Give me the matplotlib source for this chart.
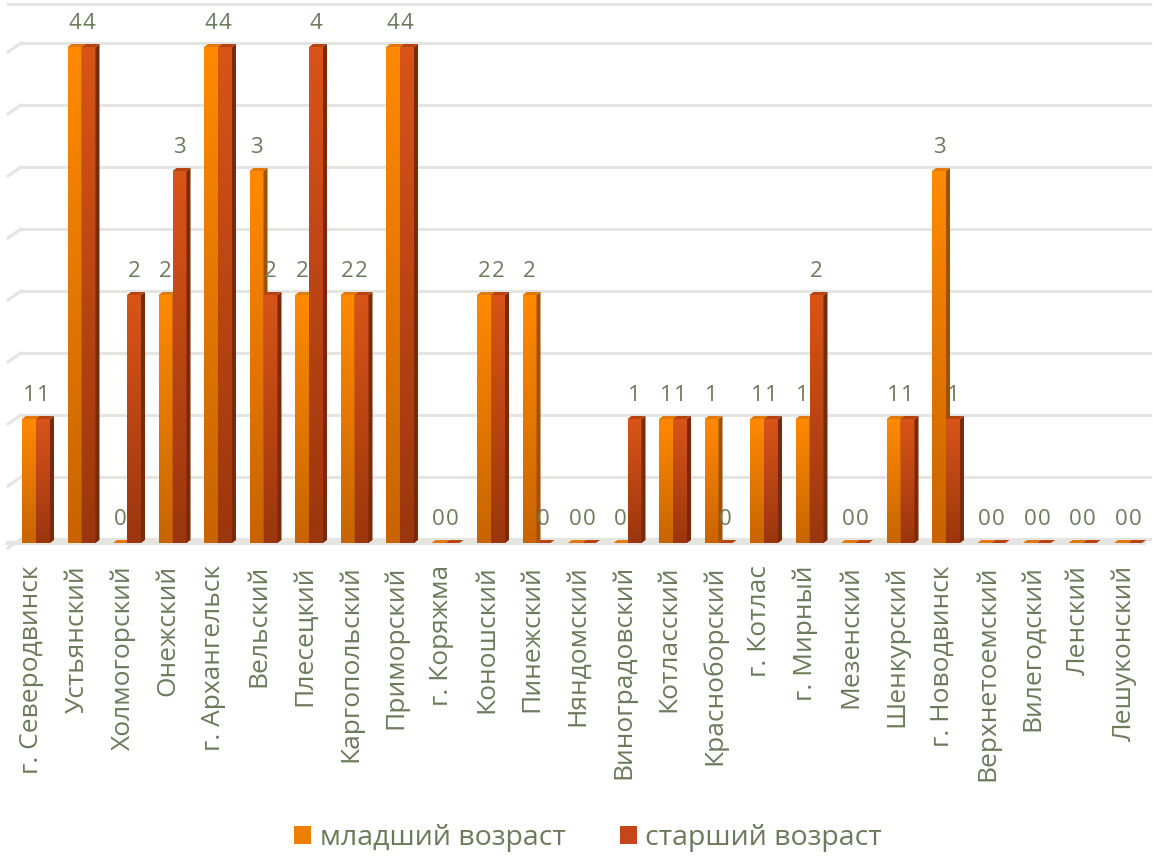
import numpy as np
import matplotlib
matplotlib.use("Agg")
import matplotlib.pyplot as plt
from matplotlib.colors import LinearSegmentedColormap
from matplotlib.patches import Polygon, Patch

plt.rcParams['font.family'] = ['Open Sans', 'DejaVu Sans']

categories = ["г. Северодвинск", "Устьянский", "Холмогорский", "Онежский", "г. Архангельск",
              "Вельский", "Плесецкий", "Каргопольский", "Приморский", "г. Коряжма",
              "Коношский", "Пинежский", "Няндомский", "Виноградовский", "Котласский",
              "Красноборский", "г. Котлас", "г. Мирный", "Мезенский", "Шенкурский",
              "г. Новодвинск", "Верхнетоемский", "Вилегодский", "Ленский", "Лешуконский"]
young = [1, 4, 0, 2, 4, 3, 2, 2, 4, 0, 2, 2, 0, 0, 1, 1, 1, 1, 0, 1, 3, 0, 0, 0, 0]
old   = [1, 4, 2, 3, 4, 2, 4, 2, 4, 0, 2, 0, 0, 1, 1, 0, 1, 2, 0, 1, 1, 0, 0, 0, 0]
series_names = ["младший возраст", "старший возраст"]

W, H = 1153, 857
fig = plt.figure(figsize=(W / 100, H / 100), dpi=100)

ax_l, ax_r, ax_t, ax_b = 8, 1150, 4, 543
ax = fig.add_axes([ax_l / W, 1 - ax_b / H, (ax_r - ax_l) / W, (ax_b - ax_t) / H])
step_px = 45.5
unit_px = 124.0
x0 = (ax_l - 36) / step_px
x1 = (ax_r - 36) / step_px
ylim_top = (ax_b - ax_t) / unit_px
ax.set_xlim(x0, x1)
ax.set_ylim(0, ylim_top)
ax.axis('off')

px_x = 1 / step_px
px_y = 1 / unit_px

grid_col = '#E4E4E0'
for v in np.arange(0, 4.01, 0.5):
    yv = v + 4 * px_y
    ax.plot([x0 + 13 * px_x, x1], [yv, yv], color=grid_col, lw=2.2, zorder=1, clip_on=False)
    ax.plot([x0, x0 + 13 * px_x], [yv - 9 * px_y, yv], color=grid_col, lw=2.2, zorder=1, clip_on=False)
ax.plot([x0, x1], [ylim_top, ylim_top], color=grid_col, lw=2.2, zorder=1, clip_on=False)
ax.plot([x0, x1 - 6 * px_x], [0, 0], color=grid_col, lw=3, zorder=1, clip_on=False)

bw = 14 * px_x
ddx = 4 * px_x
ddy = 3 * px_y

cm_front = [LinearSegmentedColormap.from_list('o', ['#C86400', '#FF8A00']),
            LinearSegmentedColormap.from_list('r', ['#9C360E', '#D85418'])]
side_cols = ['#A05000', '#7A2A08']
top_cols = ['#E07A10', '#B84312']
label_col = '#6B7A5B'
grad = np.linspace(0, 1, 64).reshape(-1, 1)

for s, vals in enumerate([young, old]):
    for i, v in enumerate(vals):
        left = i - bw + s * bw
        right = left + bw
        zo = 3 + s
        if v > 0:
            ax.imshow(grad, extent=[left, right, 0, v], origin='lower', aspect='auto',
                      cmap=cm_front[s], zorder=zo, interpolation='bilinear')
            side = Polygon([(right, 0), (right + ddx, ddy), (right + ddx, v + ddy), (right, v)],
                           closed=True, facecolor=side_cols[s], edgecolor='none', zorder=zo)
            ax.add_patch(side)
        top = Polygon([(left, v), (left + ddx, v + ddy), (right + ddx, v + ddy), (right, v)],
                      closed=True, facecolor=top_cols[s], edgecolor='none', zorder=zo + 0.5)
        ax.add_patch(top)
        ax.annotate(str(v), xy=((left + right) / 2, v), xytext=(0, 17), textcoords='offset points',
                    ha='center', va='center', fontsize=16, color=label_col, zorder=10,
                    annotation_clip=False)

ax.set_xlim(x0, x1)
ax.set_ylim(0, ylim_top)

for i, c in enumerate(categories):
    ax.annotate(c, xy=(i, 0), xytext=(-3, -16), textcoords='offset points', rotation=90,
                ha='center', va='top', fontsize=19, color=label_col, annotation_clip=False)

handles = [Patch(facecolor='#F07E00', edgecolor='none'), Patch(facecolor='#C4461A', edgecolor='none')]
fig.legend(handles, series_names, loc='center', bbox_to_anchor=(0.51, 1 - 838 / H), ncol=2,
           frameon=False, fontsize=20.5, handlelength=0.6, handleheight=0.6,
           columnspacing=1.9, handletextpad=0.3, labelcolor=label_col)

fig.savefig('out.png', dpi=100)
